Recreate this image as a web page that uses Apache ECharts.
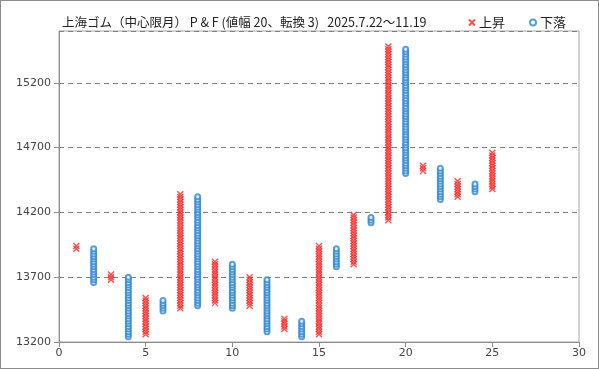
<!DOCTYPE html>
<html><head><meta charset="utf-8">
<script src="https://cdn.jsdelivr.net/npm/echarts@6/dist/echarts.min.js"></script>
<style>html,body{margin:0;padding:0;background:#fff}#c{width:599px;height:369px;box-sizing:border-box;border:1px solid #8c8c8c}</style>
</head><body><div id="c"></div>
<script>
const BOX = 20;
const columns = [1,2,3,4,5,6,7,8,9,10,11,12,13,14,15,16,17,18,19,20,21,22,23,24,25];
const colTypes = ['X','O','X','O','X','O','X','O','X','O','X','O','X','O','X','O','X','O','X','O','X','O','X','O','X'];
const colLows  = [13920,13660,13680,13240,13260,13440,13460,13480,13500,13460,13480,13280,13300,13240,13260,13780,13800,14120,14140,14500,14520,14300,14320,14360,14380];
const colHighs = [13940,13920,13720,13700,13540,13520,14340,14320,13820,13800,13700,13680,13380,13360,13940,13920,14180,14160,15480,15460,14560,14540,14440,14420,14660];
const yTicks = [13200,13700,14200,14700,15200];
const xTicks = [0,5,10,15,20,25,30];

const upPts = [], downPts = [];
columns.forEach((c,i)=>{
  for (let v = colLows[i]; v <= colHighs[i]; v += BOX) {
    (colTypes[i]==='X' ? upPts : downPts).push([c, v]);
  }
});

const chart = echarts.init(document.getElementById('c'), null, {renderer:'canvas'});
const font = '"Noto Sans CJK JP", "Noto Sans", sans-serif';
chart.setOption({
  animation:false,
  title:{text:'上海ゴム（中心限月） P & F (値幅 20、転換 3)   2025.7.22～11.19', left:56, top:10,
    textStyle:{fontSize:12.5, fontWeight:'normal', color:'#222', fontFamily:font}},
  legend:{right:27, top:10, itemGap:24, itemWidth:6, itemHeight:6,
    textStyle:{fontSize:13, color:'#222', fontFamily:font, padding:[0,0,0,-1]},
    data:['上昇','下落']},
  grid:{left:58, right:19, top:30, bottom:26, show:true, borderColor:'#a6a6a6', borderWidth:1},
  xAxis:{type:'value', min:0, max:30, interval:5,
    axisLine:{show:true, onZero:false, lineStyle:{color:'#8c8c8c'}},
    axisTick:{show:true, length:5, lineStyle:{color:'#8c8c8c'}},
    axisLabel:{color:'#444', fontSize:11, fontFamily:'"DejaVu Sans", sans-serif', margin:6},
    splitLine:{show:false}},
  yAxis:{type:'value', min:13200, max:15600, interval:500,
    axisLine:{show:true, lineStyle:{color:'#8c8c8c'}},
    axisTick:{show:true, length:5, lineStyle:{color:'#8c8c8c'}},
    axisLabel:{color:'#444', fontSize:11, fontFamily:'"DejaVu Sans", sans-serif', margin:8, showMaxLabel:false,
      formatter: v => String(v)},
    splitLine:{show:true, lineStyle:{color:'#808080', type:[5,4], width:1}}},
  series:[
    {name:'上昇', type:'scatter', data:upPts, symbol:'path://M0,0L10,10M10,0L0,10', symbolSize:6,
      itemStyle:{color:'rgba(255,40,40,0.2)', borderColor:'#ff2525', borderWidth:1.4}},
    {name:'下落', type:'scatter', data:downPts, symbol:'emptyCircle', symbolSize:5,
      itemStyle:{color:'#2f87d2', borderColor:'#2f87d2', borderWidth:1}}
  ]
});
</script></body></html>
